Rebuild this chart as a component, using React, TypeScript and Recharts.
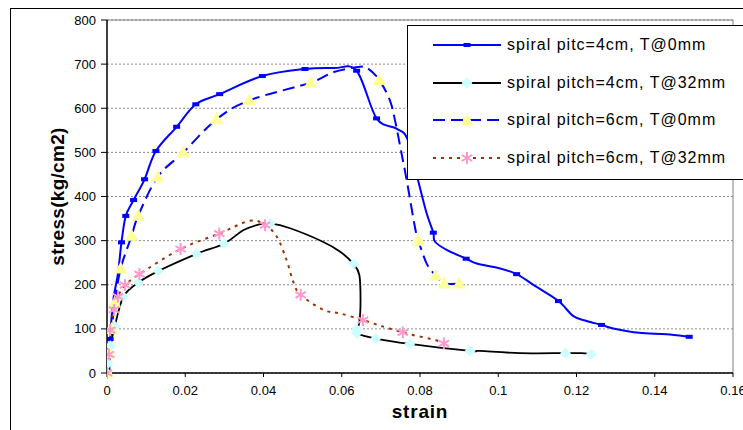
import React from 'react';
import { LineChart, Line, XAxis, YAxis, CartesianGrid, ReferenceLine, Legend, Label } from 'recharts';

// ---- data ----
const xTicks = [0, 0.02, 0.04, 0.06, 0.08, 0.1, 0.12, 0.14, 0.16];
const yTicks = [0, 100, 200, 300, 400, 500, 600, 700, 800];

const seriesNames = [
  'spiral pitc=4cm, T@0mm',
  'spiral pitch=4cm, T@32mm',
  'spiral pitch=6cm, T@0mm',
  'spiral pitch=6cm, T@32mm',
];

// spiral pitch 4cm, T@0mm (m = 1 where a marker is drawn)
const s1Strain = [0.0006, 0.0008, 0.0016, 0.0028, 0.0037, 0.0048, 0.0068, 0.0096, 0.0125, 0.0178, 0.0227, 0.0288, 0.0397, 0.0506, 0.058, 0.0638, 0.0689, 0.074, 0.0768, 0.0795, 0.0817, 0.0834, 0.0838, 0.0868, 0.0918, 0.0945, 0.1, 0.1047, 0.1098, 0.1154, 0.1192, 0.1226, 0.1264, 0.1294, 0.136, 0.143, 0.1488];
const s1Stress = [0, 77, 165, 225, 296, 356, 392, 439, 503, 558, 609, 632, 673, 689, 691, 685, 577, 554, 530, 437, 362, 318, 298, 279, 259, 248, 238, 224, 195, 163, 129, 118, 109, 101, 91, 88, 82];
const s1Mark = [0, 1, 0, 0, 1, 1, 1, 1, 1, 1, 1, 1, 1, 1, 0, 1, 1, 0, 0, 0, 0, 1, 0, 0, 1, 0, 0, 1, 0, 1, 0, 0, 1, 0, 0, 0, 1];

// spiral pitch 4cm, T@32mm
const s2Strain = [0, 0.0003, 0.0009, 0.002, 0.0042, 0.008, 0.0131, 0.0229, 0.0299, 0.0349, 0.0391, 0.0417, 0.0468, 0.0553, 0.0596, 0.063, 0.0645, 0.0648, 0.0645, 0.0638, 0.0638, 0.0687, 0.0774, 0.0928, 0.0953, 0.1056, 0.1172, 0.1213, 0.1237];
const s2Stress = [0, 22, 62, 106, 173, 205, 231, 270, 293, 324, 337, 339, 328, 297, 275, 247, 222, 165, 115, 99, 90, 78, 66, 50, 50, 45, 45, 45, 42];
const s2Mark = [1, 1, 1, 1, 1, 1, 1, 1, 1, 0, 0, 1, 0, 0, 0, 1, 0, 0, 0, 1, 1, 1, 1, 1, 0, 0, 1, 0, 1];

// spiral pitch 6cm, T@0mm
const s3Strain = [0, 0.0005, 0.0012, 0.002, 0.0035, 0.0063, 0.008, 0.013, 0.0195, 0.028, 0.0364, 0.052, 0.058, 0.0647, 0.0667, 0.0696, 0.0723, 0.0736, 0.0753, 0.0766, 0.0787, 0.0796, 0.0817, 0.084, 0.0862, 0.09];
const s3Stress = [0, 45, 100, 160, 237, 311, 357, 445, 500, 575, 618, 658, 682, 694, 690, 664, 618, 573, 497, 437, 331, 300, 248, 221, 203, 203];
const s3Mark = [1, 1, 1, 1, 1, 1, 1, 1, 1, 1, 1, 1, 0, 0, 0, 1, 0, 0, 0, 0, 0, 1, 0, 1, 1, 1];

// spiral pitch 6cm, T@32mm
const s4Strain = [0, 0.0005, 0.0008, 0.0018, 0.0028, 0.0046, 0.0083, 0.0188, 0.0287, 0.0365, 0.0404, 0.0434, 0.0459, 0.0476, 0.0495, 0.0553, 0.0596, 0.0654, 0.0706, 0.0756, 0.0782, 0.0838, 0.0861];
const s4Stress = [0, 42, 97, 143, 173, 199, 224, 281, 316, 345, 335, 309, 256, 207, 177, 143, 135, 120, 105, 92, 86, 75, 67];
const s4Mark = [1, 1, 1, 1, 1, 1, 1, 1, 1, 0, 1, 0, 0, 0, 1, 0, 0, 1, 0, 1, 0, 0, 1];

const build = (xs: number[], ys: number[], ms: number[]) =>
  xs.map((x, i) => ({ x, y: ys[i], m: ms[i] }));

const d1 = build(s1Strain, s1Stress, s1Mark);
const d2 = build(s2Strain, s2Stress, s2Mark);
const d3 = build(s3Strain, s3Stress, s3Mark);
const d4 = build(s4Strain, s4Stress, s4Mark);

// ---- styles ----
const FONT = '"Liberation Sans", Arial, Helvetica, sans-serif';
const BLUE = '#0000FF';
const BROWN = '#993300';
const CYAN = '#CCFFFF';
const YELLOW = '#FFFF99';
const PINK = '#FF99CC';

// Excel-like smoothed line (Catmull-Rom through the points)
const smoothCurve: any = (context: any) => {
  let pts: number[][] = [];
  return {
    areaStart() {},
    areaEnd() {},
    lineStart() { pts = []; },
    point(x: number, y: number) { pts.push([+x, +y]); },
    lineEnd() {
      const n = pts.length;
      if (!n) return;
      context.moveTo(pts[0][0], pts[0][1]);
      for (let i = 0; i < n - 1; i++) {
        const p0 = pts[i - 1] || pts[i];
        const p1 = pts[i];
        const p2 = pts[i + 1];
        const p3 = pts[i + 2] || p2;
        const c1x = p1[0] + (p2[0] - p0[0]) / 6;
        const c1y = p1[1] + (p2[1] - p0[1]) / 6;
        const c2x = p2[0] - (p3[0] - p1[0]) / 6;
        const c2y = p2[1] - (p3[1] - p1[1]) / 6;
        context.bezierCurveTo(c1x, c1y, c2x, c2y, p2[0], p2[1]);
      }
    },
  };
};

type Kind = 'square' | 'diamond' | 'triangle' | 'star';

const Marker = ({ kind, cx, cy }: { kind: Kind; cx: number; cy: number }) => {
  if (kind === 'square') {
    return <rect x={cx - 3.5} y={cy - 2} width={7} height={4} fill={BLUE} />;
  }
  if (kind === 'diamond') {
    const r = 5.5;
    return <polygon points={`${cx},${cy - r} ${cx + r},${cy} ${cx},${cy + r} ${cx - r},${cy}`} fill={CYAN} />;
  }
  if (kind === 'triangle') {
    return <polygon points={`${cx},${cy - 7} ${cx + 6.5},${cy + 5} ${cx - 6.5},${cy + 5}`} fill={YELLOW} />;
  }
  const r = 6;
  const dx = r * 0.866;
  const dy = r * 0.5;
  return (
    <g stroke={PINK} strokeWidth={2}>
      <line x1={cx} y1={cy - r} x2={cx} y2={cy + r} />
      <line x1={cx - dx} y1={cy - dy} x2={cx + dx} y2={cy + dy} />
      <line x1={cx - dx} y1={cy + dy} x2={cx + dx} y2={cy - dy} />
    </g>
  );
};

const dotFor = (kind: Kind) => (p: any) => {
  const key = `${kind}-${p.index}`;
  if (!p.payload || !p.payload.m || p.cx == null || p.cy == null) return <g key={key} />;
  return (
    <g key={key}>
      <Marker kind={kind} cx={p.cx} cy={p.cy} />
    </g>
  );
};

const legendItems = [
  { name: seriesNames[0], color: BLUE, dash: undefined as string | undefined, width: 2, kind: 'square' as Kind },
  { name: seriesNames[1], color: '#000', dash: undefined, width: 2, kind: 'diamond' as Kind },
  { name: seriesNames[2], color: BLUE, dash: '12 6', width: 2, kind: 'triangle' as Kind },
  { name: seriesNames[3], color: BROWN, dash: '3 5', width: 2, kind: 'star' as Kind },
];

const renderLegend = () => (
  <div
    style={{
      position: 'relative',
      width: 360,
      height: 155,
      background: '#fff',
      border: '1px solid #000',
      boxSizing: 'border-box',
      fontFamily: FONT,
    }}
  >
    {legendItems.map((it, i) => (
      <div key={i} style={{ position: 'absolute', left: 0, top: 8 + i * 37.7, height: 22, width: 360 }}>
        <svg width={80} height={22} style={{ position: 'absolute', left: 20, top: 0 }}>
          <line x1={5} y1={11} x2={73} y2={11} stroke={it.color} strokeWidth={it.width} strokeDasharray={it.dash} />
          <Marker kind={it.kind} cx={39} cy={11} />
        </svg>
        <span
          style={{
            position: 'absolute',
            left: 99,
            top: 1,
            fontSize: 16,
            lineHeight: '20px',
            color: '#000',
            whiteSpace: 'nowrap',
            letterSpacing: 1,
          }}
        >
          {it.name}
        </span>
      </div>
    ))}
  </div>
);

export default function App() {
  return (
    <div
      style={{
        position: 'absolute',
        left: 0,
        top: 0,
        width: 743,
        height: 430,
        overflow: 'hidden',
        background: '#fff',
        fontFamily: FONT,
      }}
    >
      <div
        style={{
          position: 'absolute',
          left: 10,
          top: 8,
          width: 900,
          height: 600,
          border: '1px solid #000',
        }}
      />
      <div style={{ position: 'absolute', left: 0, top: 0 }}>
        <LineChart width={743} height={430} margin={{ top: 20, right: 10, left: 0, bottom: 7 }}>
          <CartesianGrid horizontal vertical={false} stroke="#8c8c8c" strokeDasharray="2 2" />
          <XAxis
            type="number"
            dataKey="x"
            domain={[0, 0.16]}
            ticks={xTicks}
            interval={0}
            allowDataOverflow
            height={50}
            tickSize={4}
            tickMargin={9}
            tickFormatter={(v: number) => String(v)}
            tick={{ fontSize: 13, fill: '#000', fontFamily: FONT }}
            axisLine={{ stroke: '#000', strokeWidth: 1.5 }}
            tickLine={{ stroke: '#000' }}
          >
            <Label
              value="strain"
              position="center"
              dy={13}
              style={{ fontSize: 19, fontWeight: 'bold', fill: '#000', fontFamily: FONT, letterSpacing: 0.8 }}
            />
          </XAxis>
          <YAxis
            type="number"
            domain={[0, 800]}
            ticks={yTicks}
            interval={0}
            width={107}
            tickSize={6}
            tickMargin={5}
            tick={{ fontSize: 13, fill: '#000', fontFamily: FONT }}
            axisLine={{ stroke: '#000', strokeWidth: 1.5 }}
            tickLine={{ stroke: '#000' }}
          >
            <Label
              value="stress(kg/cm2)"
              position="center"
              angle={-90}
              dx={4}
              style={{ fontSize: 19, fontWeight: 'bold', fill: '#000', fontFamily: FONT, letterSpacing: 0.3, textAnchor: 'middle' }}
            />
          </YAxis>
          <ReferenceLine y={800} stroke="#808080" strokeWidth={1} />
          <ReferenceLine x={0.16} stroke="#808080" strokeWidth={1} />
          <Line
            data={d1}
            dataKey="y"
            name={seriesNames[0]}
            type={smoothCurve}
            stroke={BLUE}
            strokeWidth={2}
            dot={dotFor('square')}
            activeDot={false}
            isAnimationActive={false}
          />
          <Line
            data={d2}
            dataKey="y"
            name={seriesNames[1]}
            type={smoothCurve}
            stroke="#000"
            strokeWidth={1.8}
            dot={dotFor('diamond')}
            activeDot={false}
            isAnimationActive={false}
          />
          <Line
            data={d3}
            dataKey="y"
            name={seriesNames[2]}
            type={smoothCurve}
            stroke={BLUE}
            strokeWidth={2}
            strokeDasharray="12 6"
            dot={dotFor('triangle')}
            activeDot={false}
            isAnimationActive={false}
          />
          <Line
            data={d4}
            dataKey="y"
            name={seriesNames[3]}
            type={smoothCurve}
            stroke={BROWN}
            strokeWidth={2}
            strokeDasharray="3 5"
            dot={dotFor('star')}
            activeDot={false}
            isAnimationActive={false}
          />
          <Legend
            layout="vertical"
            align="center"
            verticalAlign="middle"
            content={renderLegend}
            wrapperStyle={{ left: 407, top: 25, width: 360, height: 155 }}
          />
        </LineChart>
      </div>
    </div>
  );
}
